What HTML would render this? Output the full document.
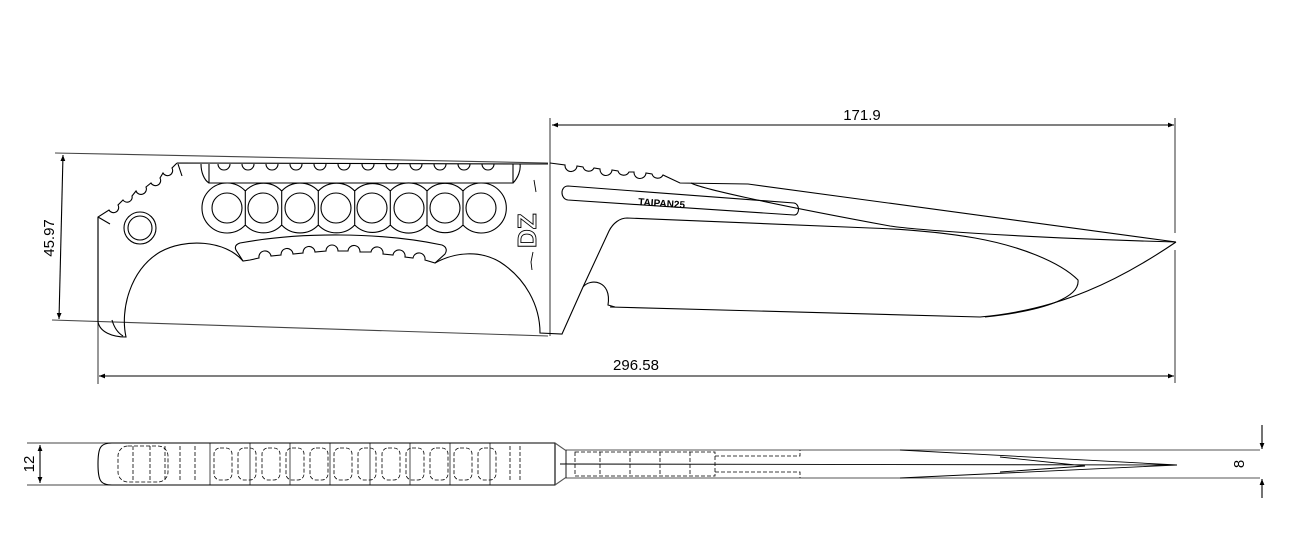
<!DOCTYPE html>
<html><head><meta charset="utf-8"><style>
html,body{margin:0;padding:0;background:#fff;}
svg{display:block;}
text{font-family:"Liberation Sans",Arial,sans-serif;fill:#000;}
</style></head><body>
<svg width="1300" height="543" viewBox="0 0 1300 543" xmlns="http://www.w3.org/2000/svg">
<defs>
<marker id="a" viewBox="0 0 10 10" refX="10" refY="5" markerWidth="14" markerHeight="6" orient="auto-start-reverse" markerUnits="userSpaceOnUse"><path d="M0,1 L10,5 L0,9 Z" fill="#000"/></marker>
</defs>
<g fill="none" stroke="#000" stroke-width="1.1">
<line x1="550" y1="118" x2="550" y2="336" stroke="#444"/>
<line x1="1175" y1="118" x2="1175" y2="233" stroke="#444"/>
<line x1="1175" y1="250" x2="1175" y2="383" stroke="#444"/>
<line x1="552" y1="125" x2="1174" y2="125" marker-start="url(#a)" marker-end="url(#a)"/>
<line x1="98" y1="217" x2="98" y2="384" stroke="#444"/>
<line x1="99" y1="376" x2="1174" y2="376" marker-start="url(#a)" marker-end="url(#a)"/>
<line x1="55" y1="153" x2="548" y2="163" stroke="#444"/>
<line x1="52" y1="320" x2="548" y2="336" stroke="#444"/>
<line x1="63" y1="155" x2="59" y2="319" marker-start="url(#a)" marker-end="url(#a)"/>

<path d="M177,163 L548,164 M177,163 L172,168 a5,5 0 0 1 -9,5 L160,178 a5,5 0 0 1 -9,5 L146,187 a5,5 0 0 1 -10,4 L132,196 a5,5 0 0 1 -9,4 L118,205 a5,5 0 0 1 -9,5 L98,217 L98,322"/>
<path d="M178,164 l4,12 M98,217 l12,7"/>
<path d="M98,322 C100,332 112,337 126,337 C120,310 130,270 160,252 C185,238 225,240 243,261"/>
<path d="M112,320 C114,327 118,333 123,336"/>
<path d="M435,263 C455,252 480,250 500,262 C525,278 540,305 540,333 L562,334 L583,287"/>
<circle cx="140" cy="228" r="16"/><circle cx="140" cy="228" r="12"/>
<path d="M209,164 L209,183 L513,183 L513,164"/>
<path d="M201,164 C201,172 204,180 209,183 M513,183 C518,178 521,170 520,164"/>
<path d="M218,164 a6,6 0 0 0 12,0 M242,164 a6,6 0 0 0 12,0 M266,164 a6,6 0 0 0 12,0 M290,164 a6,6 0 0 0 12,0 M314,164 a6,6 0 0 0 12,0 M338,164 a6,6 0 0 0 12,0 M362,164 a6,6 0 0 0 12,0 M386,164 a6,6 0 0 0 12,0 M410,164 a6,6 0 0 0 12,0 M434,164 a6,6 0 0 0 12,0 M458,164 a6,6 0 0 0 12,0 M482,164 a6,6 0 0 0 12,0"/>
<!-- chained circles outline -->
<path d="M245.3,191 A25,25 0 1 0 245.3,225 M245.3,191 A25,25 0 0 1 281.7,191 M245.3,225 A25,25 0 0 0 281.7,225 M281.7,191 A25,25 0 0 1 318.3,191 M281.7,225 A25,25 0 0 0 318.3,225 M318.3,191 A25,25 0 0 1 354.7,191 M318.3,225 A25,25 0 0 0 354.7,225 M354.7,191 A25,25 0 0 1 390.3,191 M354.7,225 A25,25 0 0 0 390.3,225 M390.3,191 A25,25 0 0 1 427,191 M390.3,225 A25,25 0 0 0 427,225 M427,191 A25,25 0 0 1 463,191 M427,225 A25,25 0 0 0 463,225 M463,191 A25,25 0 1 1 463,225 M245.3,191 V225 M281.7,191 V225 M318.3,191 V225 M354.7,191 V225 M390.3,191 V225 M427,191 V225 M463,191 V225"/>
<g>
<circle cx="227" cy="208" r="15"/><circle cx="263" cy="208" r="15"/><circle cx="300" cy="208" r="15"/><circle cx="336" cy="208" r="15"/>
<circle cx="372" cy="208" r="15"/><circle cx="409" cy="208" r="15"/><circle cx="445" cy="208" r="15"/><circle cx="481" cy="208" r="15"/>
</g>
<path d="M243,261 L236,250 C234,246 237,244 240,243 C300,232 380,232 442,245 C447,247 447,251 445,254 L435,263 L425,260 a6,6 0 0 0 -12,-2 L405,257 a6,6 0 0 0 -12,-2 L383,254 a6,6 0 0 0 -12,-2 L360,252 a6,6 0 0 0 -12,-1 L338,251 a6,6 0 0 0 -12,0 L315,252 a6,6 0 0 0 -12,1 L293,254 a6,6 0 0 0 -12,1 L271,256 a6,6 0 0 0 -12,2 L250,260 Z"/>
<path d="M534,180 l2,12 M533,252 l-2,10 l1,8" stroke-width="0.9"/>

<path d="M550,163 L565,165 a6,6 0 0 0 12,1 L583,167 a6,6 0 0 0 11,1 L600,169 a6,6 0 0 0 12,1 L618,171 a6,6 0 0 0 11,1 L634,172 a6,6 0 0 0 12,1 L652,174 a6,6 0 0 0 11,1 L680,183 L748,184 L1176,242"/>
<path d="M691,183 C700,188 760,202 890,226 C910,229 1000,237 1176,242"/>
<path d="M1176,242 C1120,280 1060,310 980,317 L610,307"/>
<path d="M583,287 C590,278 612,280 608,305 L615,307"/>
<path d="M583,287 L609,231 C613,223 620,218 627,218 L870,228 C900,229 940,232 975,238 C1020,246 1060,262 1078,280 C1080,296 1050,310 985,317"/>
<path d="M568,186 L794,203 C800,204 800,215 794,215 L568,200 C560,199 560,186 568,186 Z"/>

<path d="M27,443 L555,443 M27,485 L555,485" stroke="#444"/>
<line x1="40" y1="445" x2="40" y2="483" marker-start="url(#a)" marker-end="url(#a)"/>
<path d="M112,443 L555,443 L555,485 L112,485 C100,485 98,480 98,464 C98,448 100,443 112,443 Z"/>
<path d="M555,443 L565,450 L1260,450 M555,485 L565,478 L1260,478" stroke="#555"/>
<path d="M566,450 L566,478 M900,450 L1177,465 L900,478 M560,464 L1177,465 M1000,457 L1085,466 L1000,472" stroke-width="0.9"/>
<line x1="1262" y1="425" x2="1262" y2="449" marker-end="url(#a)"/>
<line x1="1262" y1="498" x2="1262" y2="479" marker-end="url(#a)"/>
<g stroke-width="0.7">
<path d="M210,443 v42 M250,443 v42 M290,443 v42 M330,443 v42 M370,443 v42 M410,443 v42 M450,443 v42 M490,443 v42"/>
</g>
<g stroke-dasharray="4,2" stroke-width="0.8">
<rect x="118" y="446" width="50" height="36" rx="10"/>
<path d="M133,446 v36 M150,446 v36 M165,446 v36 M180,446 v36 M195,446 v36"/>
<rect x="214" y="448" width="18" height="32" rx="6"/><rect x="238" y="448" width="18" height="32" rx="6"/>
<rect x="262" y="448" width="18" height="32" rx="6"/><rect x="286" y="448" width="18" height="32" rx="6"/>
<rect x="310" y="448" width="18" height="32" rx="6"/><rect x="334" y="448" width="18" height="32" rx="6"/>
<rect x="358" y="448" width="18" height="32" rx="6"/><rect x="382" y="448" width="18" height="32" rx="6"/>
<rect x="406" y="448" width="18" height="32" rx="6"/><rect x="430" y="448" width="18" height="32" rx="6"/>
<rect x="454" y="448" width="18" height="32" rx="6"/><rect x="478" y="448" width="18" height="32" rx="6"/>
<path d="M510,446 v36 M520,446 v36"/>
<rect x="575" y="452" width="140" height="24"/>
<path d="M600,452 v24 M630,452 v24 M660,452 v24 M690,452 v24 M715,456 L800,456 L800,450 M715,472 L800,472 L800,478"/>
</g>
</g>
<text transform="translate(536,248) rotate(-90)" font-size="26" font-weight="bold" fill="none" stroke="#000" stroke-width="0.9" style="fill:none">DZ</text>
<text x="862" y="120" font-size="15" text-anchor="middle">171.9</text>
<text x="636" y="370" font-size="15" text-anchor="middle">296.58</text>
<text transform="translate(54,238) rotate(-90)" font-size="15" text-anchor="middle">45.97</text>
<text transform="translate(34,464) rotate(-90)" font-size="15" text-anchor="middle">12</text>
<text transform="translate(1244,464) rotate(-90)" font-size="15" text-anchor="middle">8</text>
<text transform="translate(638,205) rotate(4)" font-size="10" font-weight="bold">TAIPAN25</text>
</svg>
</body></html>
